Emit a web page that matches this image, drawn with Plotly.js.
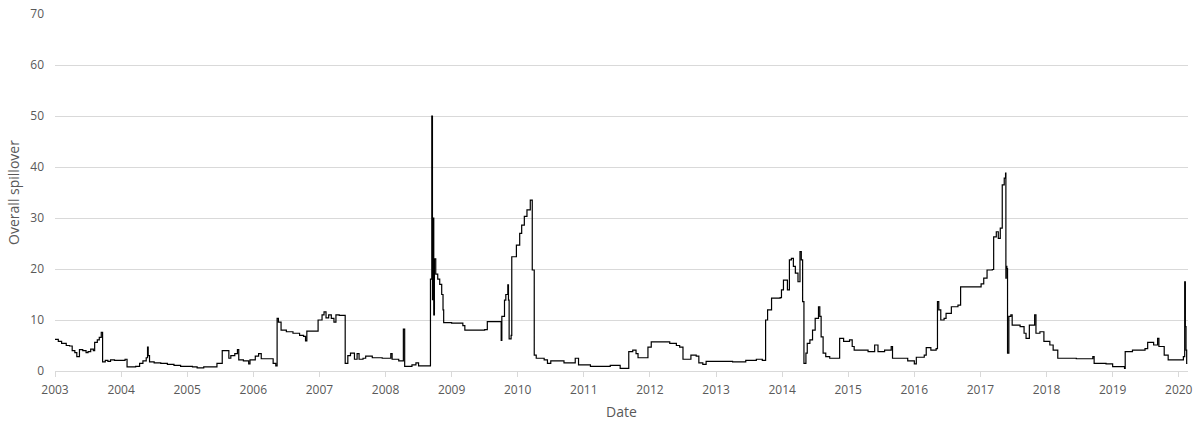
<!DOCTYPE html>
<html>
<head>
<meta charset="utf-8">
<script src="https://cdn.plot.ly/plotly-3.0.1.min.js"></script>
<style>html,body{margin:0;padding:0;background:#fff;}#chart{width:1204px;height:426px;}</style>
</head>
<body>
<div id="chart"></div>
<script>
// Time in decimal years
const dates = [
2003.00,2003.05,2003.10,2003.17,2003.22,2003.26,2003.30,2003.33,2003.37,2003.42,2003.47,2003.50,2003.54,2003.58,2003.60,2003.64,2003.67,2003.70,2003.72,2003.76,2003.80,2003.84,2003.90,2004.00,2004.06,2004.09,2004.22,2004.28,2004.33,2004.38,2004.40,2004.41,2004.43,2004.50,2004.60,2004.70,2004.80,2004.90,2005.00,2005.08,2005.15,2005.25,2005.45,2005.53,2005.63,2005.66,2005.72,2005.76,2005.78,2005.85,2005.93,2005.95,2006.03,2006.08,2006.12,2006.30,2006.34,2006.36,2006.38,2006.42,2006.50,2006.60,2006.70,2006.76,2006.79,2006.81,2006.98,2007.04,2007.07,2007.10,2007.14,2007.18,2007.22,2007.25,2007.30,2007.39,2007.43,2007.47,2007.53,2007.57,2007.60,2007.66,2007.70,2007.80,2007.95,2008.08,2008.10,2008.20,2008.27,2008.29,2008.40,2008.46,2008.50,2008.68,2008.70,2008.71,2008.72,2008.73,2008.74,2008.76,2008.79,2008.82,2008.85,2008.87,2008.88,2009.00,2009.17,2009.20,2009.50,2009.54,2009.75,2009.76,2009.80,2009.82,2009.85,2009.86,2009.87,2009.90,2009.91,2009.98,2010.03,2010.06,2010.10,2010.14,2010.19,2010.22,2010.25,2010.28,2010.40,2010.45,2010.50,2010.70,2010.87,2010.92,2011.10,2011.30,2011.40,2011.55,2011.68,2011.74,2011.79,2011.82,2011.97,2012.02,2012.30,2012.40,2012.45,2012.50,2012.62,2012.70,2012.74,2012.80,2012.85,2013.25,2013.45,2013.61,2013.70,2013.75,2013.78,2013.84,2013.97,2013.99,2014.02,2014.08,2014.11,2014.14,2014.17,2014.20,2014.24,2014.27,2014.29,2014.31,2014.33,2014.36,2014.38,2014.42,2014.46,2014.50,2014.55,2014.57,2014.59,2014.62,2014.66,2014.72,2014.87,2014.93,2015.02,2015.06,2015.09,2015.30,2015.40,2015.45,2015.55,2015.65,2015.67,2015.90,2016.00,2016.03,2016.15,2016.18,2016.25,2016.33,2016.35,2016.37,2016.40,2016.45,2016.48,2016.56,2016.66,2016.70,2017.01,2017.05,2017.10,2017.18,2017.20,2017.24,2017.27,2017.30,2017.33,2017.36,2017.38,2017.385,2017.39,2017.40,2017.41,2017.43,2017.46,2017.48,2017.60,2017.66,2017.69,2017.74,2017.82,2017.84,2017.90,2017.96,2018.05,2018.10,2018.17,2018.45,2018.70,2018.72,2018.90,2019.00,2019.18,2019.19,2019.30,2019.49,2019.53,2019.62,2019.68,2019.70,2019.78,2019.84,2020.04,2020.07,2020.09,2020.10,2020.11,2020.12,2020.13
];
// Overall spillover values
const spillover = [
6.2,5.8,5.4,5.0,4.9,4.0,3.6,2.8,4.2,4.0,3.6,3.8,4.3,4.0,5.6,6.1,6.6,7.6,1.8,2.1,1.9,2.2,2.1,2.1,2.3,0.8,0.9,1.5,2.0,2.6,4.7,3.0,1.8,1.6,1.5,1.3,1.1,0.9,0.9,0.8,0.6,0.8,1.5,4.0,2.5,3.0,3.4,4.2,2.2,2.0,1.4,2.2,2.9,3.4,2.4,1.5,1.0,10.3,9.6,8.0,7.7,7.4,7.0,6.8,5.9,7.8,10.0,11.0,11.6,10.4,11.0,10.3,9.6,11.0,10.9,1.5,3.0,3.5,2.3,3.4,2.3,2.5,2.9,2.6,2.5,3.4,2.3,2.0,8.2,0.9,1.2,1.6,1.0,18,50,14,30,11,22,19,18,17,15,12,9.5,9.4,8.9,8.0,8.1,9.7,6.0,10.7,13.9,15.0,16.9,13.9,6.3,7.0,22.4,24.7,27.0,28.6,30.3,31.6,33.5,19.8,3.1,2.5,2.2,1.5,2.0,1.6,2.5,1.2,0.9,0.9,1.1,0.5,3.8,4.1,3.4,2.6,4.7,5.7,5.4,5.0,4.7,2.3,3.1,2.9,1.6,1.3,1.9,1.8,2.1,2.3,2.1,10.0,12.0,14.3,14.4,15.9,17.8,15.9,21.8,22.1,20.5,19.2,17.5,23.4,21.8,13.6,1.5,3.5,5.4,6.1,8.0,10.3,12.6,10.7,6.7,3.5,2.8,2.5,6.4,5.8,6.1,4.8,4.1,3.8,5.1,3.8,4.1,4.8,2.5,2.0,1.4,2.7,3.1,4.6,4.1,4.4,13.6,12.0,10.0,10.3,11.3,12.6,12.9,16.5,17.1,18.2,19.8,19.9,26.3,27.3,26.0,28.0,36.5,37.8,38.8,18.2,20.5,20.1,3.5,10.7,11.0,9.0,8.7,7.4,6.4,9.0,11.0,7.4,7.7,5.8,5.1,4.1,2.5,2.4,2.8,1.5,1.4,0.85,0.5,3.8,4.1,4.4,5.6,5.1,6.4,4.8,3.1,2.2,2.2,2.8,17.5,8.7,4.1,1.5,1.5
];
const yearTicks = [2003,2004,2005,2006,2007,2008,2009,2010,2011,2012,2013,2014,2015,2016,2017,2018,2019,2020];
const yTicks = [0,10,20,30,40,50,60,70];

const trace = {
  x: dates, y: spillover, type: 'scatter', mode: 'lines',
  line: {color: '#000000', width: 1.2, shape: 'hv'},
  hoverinfo: 'skip'
};
const font = {family: 'Open Sans, sans-serif', color: '#595959'};
const layout = {
  width: 1204, height: 426,
  margin: {l: 55, r: 16, t: 14, b: 55},
  paper_bgcolor: '#ffffff', plot_bgcolor: '#ffffff',
  showlegend: false,
  font: font,
  xaxis: {
    range: [2003, 2020.14], tickmode: 'array', tickvals: yearTicks,
    ticktext: yearTicks.map(String),
    showgrid: false, zeroline: false,
    showline: true, linecolor: '#d9d9d9', linewidth: 1,
    ticks: 'outside', ticklen: 5, tickcolor: '#d9d9d9', tickwidth: 1,
    ticklabelstandoff: 3,
    tickfont: {family: 'Open Sans, sans-serif', size: 12, color: '#595959'},
    title: {text: 'Date', font: {family: 'Open Sans, sans-serif', size: 14, color: '#595959'}, standoff: 9}
  },
  yaxis: {
    range: [0, 70], tickmode: 'array', tickvals: yTicks,
    showgrid: true, gridcolor: '#d9d9d9', gridwidth: 1,
    zeroline: false, showline: false, ticks: '',
    ticklabelstandoff: 10,
    tickfont: {family: 'Open Sans, sans-serif', size: 12, color: '#595959'},
    title: {text: 'Overall spillover', font: {family: 'Open Sans, sans-serif', size: 14, color: '#595959'}, standoff: 7}
  }
};
Plotly.newPlot('chart', [trace], layout, {displayModeBar: false, staticPlot: true});
</script>
</body>
</html>
